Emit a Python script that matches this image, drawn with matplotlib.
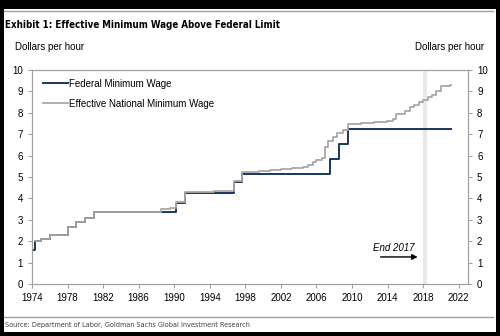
import matplotlib
matplotlib.use('Agg')
import matplotlib.pyplot as plt
from matplotlib.patches import Rectangle
from matplotlib.lines import Line2D

plt.rcParams['font.family'] = ['Liberation Sans', 'DejaVu Sans']

# federal minimum wage (step changes)
fed_years = [1974.0, 1974.35, 1975.0, 1976.0, 1978.0, 1979.0, 1980.0, 1981.0,
             1990.25, 1991.25, 1996.75, 1997.67, 2007.55, 2008.55, 2009.55, 2021.1]
fed_wage = [1.60, 2.00, 2.10, 2.30, 2.65, 2.90, 3.10, 3.35,
            3.80, 4.25, 4.75, 5.15, 5.85, 6.55, 7.25, 7.25]

# effective national minimum wage
eff_years = [1974.35, 1975.0, 1976.0, 1978.0, 1979.0, 1980.0, 1981.0, 1988.5,
             1989.5, 1990.25, 1991.25, 1992.3, 1994.5, 1996.75, 1997.67, 1999.5,
             2000.8, 2002.0, 2003.2, 2004.5, 2005.0, 2005.6, 2006.0, 2006.6,
             2007.0, 2007.3, 2007.9, 2008.3, 2009.0, 2009.5, 2011.0, 2012.5,
             2013.9, 2014.6, 2015.0, 2016.0, 2016.5, 2017.0, 2017.5, 2018.0,
             2018.6, 2019.0, 2019.5, 2020.0, 2021.0, 2021.1]
eff_wage = [2.00, 2.10, 2.30, 2.65, 2.90, 3.10, 3.35, 3.48,
            3.55, 3.85, 4.28, 4.30, 4.32, 4.80, 5.22, 5.26,
            5.30, 5.36, 5.42, 5.48, 5.55, 5.70, 5.80, 5.90,
            6.40, 6.70, 6.85, 7.05, 7.20, 7.45, 7.50, 7.55,
            7.60, 7.70, 7.95, 8.10, 8.25, 8.35, 8.50, 8.60,
            8.75, 8.85, 9.00, 9.25, 9.30, 9.30]

xticks = list(range(1974, 2023, 4))
yticks = list(range(0, 11))

fig = plt.figure(figsize=(5, 3.36), dpi=100, facecolor='black')
fig.patches.append(Rectangle((0.008, 0.012), 0.984, 0.961, transform=fig.transFigure,
                             facecolor='white', edgecolor='none', zorder=-5))
for yy in [1 - 11 / 336, 1 - 317 / 336]:
    fig.add_artist(Line2D([0.008, 0.985], [yy, yy], color='#a0a0a0', lw=1))

ax = fig.add_axes([0.064, 0.155, 0.872, 0.637])
ax.axvspan(2018.0, 2018.4, color='#e8e8e8', lw=0, zorder=0)
ax.step(fed_years, fed_wage, where='post', color='#17375e', lw=1.4,
        label='Federal Minimum Wage', zorder=2)
ax.step(eff_years, eff_wage, where='post', color='#a8a8a8', lw=1.3,
        label='Effective National Minimum Wage', zorder=3)

ax.set_xlim(1974, 2023.05)
ax.set_ylim(0, 10)
ax.set_xticks(xticks)
ax.set_yticks(yticks)
for s in ax.spines.values():
    s.set_color('#a0a0a0')
ax.tick_params(colors='#a0a0a0', labelcolor='black', labelsize=7, length=3, direction='out')

ax2 = ax.twinx()
ax2.set_ylim(0, 10)
ax2.set_yticks(yticks)
ax2.tick_params(colors='#a0a0a0', labelcolor='black', labelsize=7, length=3, direction='out')
for s in ax2.spines.values():
    s.set_color('#a0a0a0')

ax.legend(loc='upper left', bbox_to_anchor=(0.005, 1.0), frameon=False, fontsize=7,
          handlelength=2.6, handletextpad=0.1, labelspacing=1.05)

ax.annotate('', xy=(2017.7, 1.26), xytext=(2012.9, 1.26),
            arrowprops=dict(arrowstyle='-|>', color='black', lw=1, mutation_scale=8))
ax.text(2014.7, 1.68, 'End 2017', fontsize=7, style='italic', ha='center', va='center')

fig.text(0.01, 1 - 25 / 336, 'Exhibit 1: Effective Minimum Wage Above Federal Limit',
         fontsize=7, fontweight='bold', va='center', fontstretch='condensed',
         family=['DejaVu Sans'])
fig.text(0.03, 1 - 47 / 336, 'Dollars per hour', fontsize=7, va='center')
fig.text(0.968, 1 - 47 / 336, 'Dollars per hour', fontsize=7, va='center', ha='right')
fig.text(0.01, 1 - 325 / 336,
         'Source: Department of Labor, Goldman Sachs Global Investment Research',
         fontsize=5.2, va='center', color='#404040', fontstretch='condensed',
         family=['DejaVu Sans'])

fig.savefig('out.png', dpi=100, facecolor=fig.get_facecolor())
